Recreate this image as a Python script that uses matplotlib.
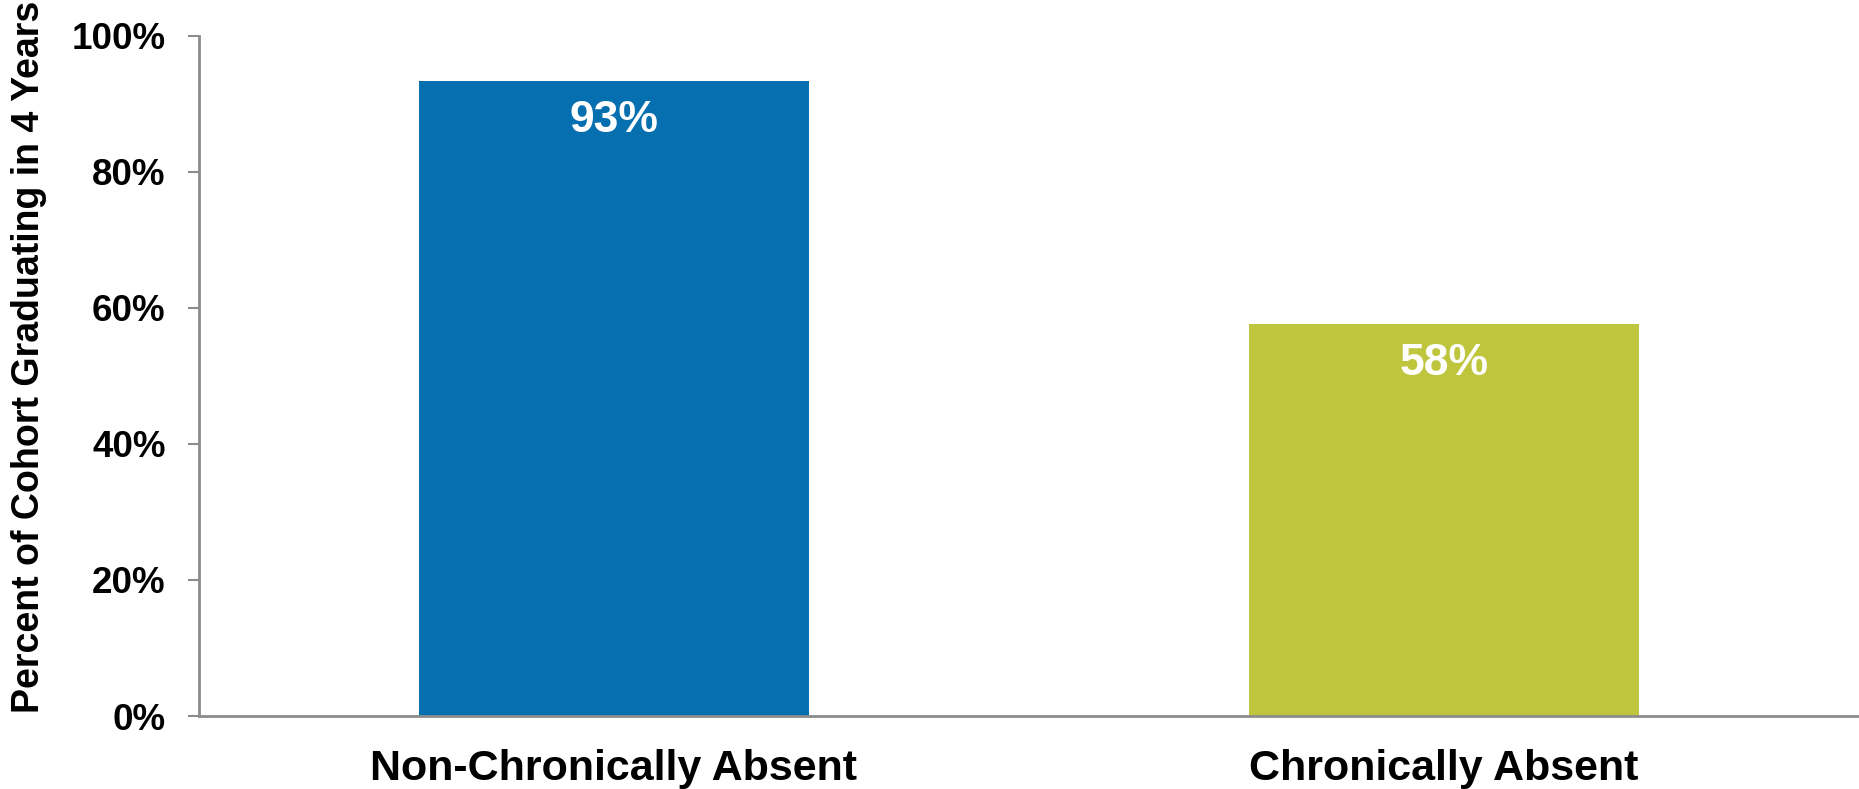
import matplotlib.pyplot as plt

categories = ['Non-Chronically Absent', 'Chronically Absent']
grad_rates = [93.4, 57.6]
bar_colors = ['#066FAF', '#BFC53D']
yticks = [0, 20, 40, 60, 80, 100]

plt.rcParams['font.family'] = ['Liberation Sans', 'DejaVu Sans']
plt.rcParams['font.weight'] = 'bold'

fig = plt.figure(figsize=(18.59, 7.89), dpi=100)
ax = fig.add_axes([0.107, 0.0925, 0.893, 0.862])

x = range(len(categories))
bars = ax.bar(x, grad_rates, width=0.47, color=bar_colors, zorder=2)

for b, v in zip(bars, grad_rates):
    ax.text(b.get_x() + b.get_width() / 2, v - 5.8, f'{v:.0f}%',
            ha='center', va='center', color='white', fontsize=32, fontweight='bold')

ax.set_xlim(-0.5, 1.5)
ax.set_ylim(0, 100)
ax.set_yticks(yticks)
ax.set_yticklabels([f'{t}%' for t in yticks])
ax.set_xticks(list(x))
ax.set_xticklabels(categories)

for s in ['top', 'right']:
    ax.spines[s].set_visible(False)
for s in ['left', 'bottom']:
    ax.spines[s].set_color('#8C8C8C')
    ax.spines[s].set_linewidth(2)

ax.tick_params(axis='y', length=8, width=1.5, color='#8C8C8C', pad=16, labelsize=26.5)
ax.tick_params(axis='x', length=0, pad=24, labelsize=31)

# y title placed in figure coords so it sits flush at the left edge
fig.text(29 / 1859, 1 - 357 / 789, 'Percent of Cohort Graduating in 4 Years',
         rotation=90, ha='center', va='center', fontsize=27, fontweight='bold')

fig.savefig('out.png', dpi=100)
